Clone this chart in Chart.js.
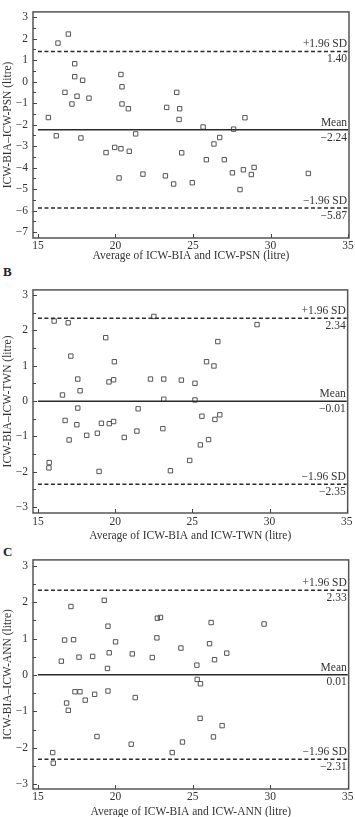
<!DOCTYPE html>
<html><head><meta charset="utf-8">
<script src="https://cdn.jsdelivr.net/npm/chart.js@4/dist/chart.umd.min.js"></script>
<style>
html,body{margin:0;padding:0;background:#fff;overflow:hidden;width:355px;height:817px;}
canvas{position:absolute;left:0;}
.lbl{position:absolute;left:3px;font:bold 13px "Liberation Serif","Times New Roman",serif;color:#222;line-height:14px;}
</style></head><body>
<div class="lbl" style="top:265px">B</div>
<div class="lbl" style="top:545px">C</div>
<canvas id="cA" width="355" height="264" style="top:0px;width:355px;height:264px"></canvas>
<canvas id="cB" width="355" height="267" style="top:278px;width:355px;height:267px"></canvas>
<canvas id="cC" width="355" height="272" style="top:548px;width:355px;height:272px"></canvas>
<script>
// ---- data ----
const xTicks = [15, 20, 25, 30, 35];
const yTicksA = [3, 2, 1, 0, -1, -2, -3, -4, -5, -6, -7];
const yTicksBC = [3, 2, 1, 0, -1, -2, -3];

const psnX = [15.67,16.18,16.29,16.96,16.74,17.19,17.37,17.37,17.52,17.77,17.88,18.29,20.35,20.42,20.42,20.83,21.30,23.30,23.95,24.14,24.10,25.65,26.72,27.62,28.35,19.39,19.95,20.35,20.89,20.23,21.77,23.22,23.75,24.27,24.95,25.86,26.35,27.02,27.54,28.25,28.03,28.76,28.94,32.44];
const psnY = [-1.67,-2.52,1.79,2.21,-0.50,-1.04,0.83,0.23,-0.68,-2.62,0.06,-0.77,0.33,-0.24,-1.04,-1.26,-2.43,-1.20,-0.50,-1.26,-1.76,-2.11,-2.60,-2.21,-1.68,-3.30,-3.06,-3.12,-3.24,-4.48,-4.30,-4.38,-4.76,-3.31,-4.70,-3.63,-2.90,-3.63,-4.24,-4.10,-5.02,-4.32,-3.99,-4.27];

const twnX = [16.05,16.96,16.59,17.13,17.58,17.73,17.58,19.39,19.60,19.90,19.95,21.49,22.29,22.51,23.15,23.15,24.29,25.17,25.17,25.92,26.40,26.65,29.19,16.76,17.02,17.52,18.16,18.85,19.11,19.62,19.90,18.96,20.59,21.41,23.09,23.58,15.73,15.71,24.83,25.52,26.05,25.62,26.46,26.78];
const twnY = [2.26,2.21,0.17,1.27,0.62,0.29,-0.20,1.79,0.54,0.60,1.11,-0.22,0.62,2.39,0.62,0.05,0.59,0.50,0.03,1.11,0.99,1.68,2.16,-0.55,-1.10,-0.67,-0.97,-0.91,-0.63,-0.64,-0.58,-1.99,-1.03,-0.85,-0.78,-1.97,-1.74,-1.89,-1.68,-1.24,-1.09,-0.43,-0.52,-0.39];

const annX = [16.51,16.72,17.13,17.30,17.65,18.53,19.28,19.52,19.60,19.49,20.01,21.09,22.38,22.68,22.71,22.91,24.23,25.26,25.28,26.08,26.18,26.40,27.19,29.60,25.49,16.85,16.96,17.39,17.71,18.05,18.66,19.52,21.28,18.81,21.02,23.67,24.33,25.47,26.33,26.89,15.95,15.99];
const annY = [0.38,0.96,1.88,0.97,0.49,0.51,2.05,1.34,0.61,0.18,0.91,0.58,0.48,1.02,1.56,1.58,0.74,0.27,-0.12,0.86,1.44,0.42,0.60,1.40,-0.24,-0.77,-0.97,-0.46,-0.46,-0.69,-0.53,-0.44,-0.62,-1.69,-1.90,-2.13,-1.84,-1.19,-1.70,-1.39,-2.13,-2.42];

const meanDiff = [-2.24, -0.01, 0.01];
const upperLoA = [1.40, 2.34, 2.33];
const lowerLoA = [-5.87, -2.35, -2.31];
const yTitles = ['ICW-BIA\u2013ICW-PSN (litre)', 'ICW-BIA\u2013ICW-TWN (litre)', 'ICW-BIA\u2013ICW-ANN (litre)'];
const xTitles = ['Average of ICW-BIA and ICW-PSN (litre)', 'Average of ICW-BIA and ICW-TWN (litre)', 'Average of ICW-BIA and ICW-ANN (litre)'];

// ---- drawing ----
const FONT = '"Liberation Serif", "Times New Roman", serif';
const FS = 11.5;
const INK = '#333';
const minus = v => (v < 0 ? '\u2212' + Math.abs(v) : String(v));
const minus2 = v => (v < 0 ? '\u2212' + Math.abs(v).toFixed(2) : v.toFixed(2));

const decor = {
  id: 'decor',
  afterDatasetsDraw(chart, args, opts) {
    const {ctx, chartArea: a, scales: {x, y}} = chart;
    ctx.save();
    ctx.strokeStyle = '#555';
    ctx.lineWidth = 1.5;
    ctx.strokeRect(a.left, a.top, a.right - a.left, a.bottom - a.top);
    ctx.lineWidth = 1;
    ctx.strokeStyle = '#444';
    ctx.beginPath();
    for (let v = Math.ceil(y.min * 2) / 2; v <= y.max; v += 0.5) {
      const py = Math.round(y.getPixelForValue(v)) + 0.5;
      const len = Number.isInteger(v) ? 4 : 3;
      ctx.moveTo(a.left, py); ctx.lineTo(a.left + len, py);
    }
    x.ticks.forEach(t => {
      const px = Math.round(x.getPixelForValue(t.value)) + 0.5;
      ctx.moveTo(px, a.bottom); ctx.lineTo(px, a.bottom - 4);
    });
    ctx.stroke();
    ctx.fillStyle = INK;
    ctx.font = FS + 'px ' + FONT;
    ctx.textAlign = 'right';
    const xr = x.getPixelForValue(xTicks[xTicks.length - 1]) - 1;
    opts.marks.forEach(m => {
      const py = y.getPixelForValue(m.v);
      ctx.textBaseline = 'alphabetic';
      ctx.fillText(m.above, xr, py - 4);
      ctx.textBaseline = 'top';
      ctx.fillText(m.below, xr, py + 2);
    });
    ctx.restore();
  }
};

function makePanel(id, i, xs, ys, yTicks, yMin, yMax, cfg) {
  const pts = xs.map((v, k) => ({x: v, y: ys[k]}));
  const x0 = xTicks[0], x1 = xTicks[xTicks.length - 1];
  const hline = (v, dash, w) => ({
    data: [{x: x0, y: v}, {x: x1, y: v}], showLine: true, borderColor: '#2a2a2a',
    borderWidth: w, borderDash: dash, pointRadius: 0, fill: false
  });
  new Chart(document.getElementById(id), {
    type: 'scatter',
    data: {datasets: [
      hline(upperLoA[i], [4, 2.5], 1.5),
      hline(meanDiff[i], [], 1.5),
      hline(lowerLoA[i], [4, 2.5], 1.5),
      {data: pts, pointStyle: 'rect', pointRadius: 3.1, borderColor: '#555', borderWidth: 1, backgroundColor: 'rgba(255,255,255,0)'}
    ]},
    options: {
      responsive: false, animation: false, events: [],
      layout: {padding: {top: cfg.pt, right: 6, left: 0, bottom: 0}},
      plugins: {legend: {display: false}, tooltip: {enabled: false},
        decor: {marks: [
          {v: upperLoA[i], above: '+1.96 SD', below: minus2(upperLoA[i])},
          {v: meanDiff[i], above: 'Mean', below: minus2(meanDiff[i])},
          {v: lowerLoA[i], above: '\u22121.96 SD', below: minus2(lowerLoA[i])}
        ]}},
      scales: {
        x: {type: 'linear', min: 14.68, max: 35.06,
          afterBuildTicks: s => { s.ticks = xTicks.map(v => ({value: v})); },
          afterFit: s => { s.height = cfg.xh; },
          grid: {display: false, drawTicks: false}, border: {display: false},
          ticks: {padding: cfg.xp, color: INK, font: {family: FONT, size: FS}, maxRotation: 0, autoSkip: false},
          title: {display: true, text: xTitles[i], color: INK, font: {family: FONT, size: FS}, padding: {top: 0, bottom: cfg.tb}}
        },
        y: {type: 'linear', min: yMin, max: yMax,
          afterBuildTicks: s => { s.ticks = yTicks.map(v => ({value: v})); },
          afterFit: s => { s.width = 33; },
          grid: {display: false, drawTicks: false}, border: {display: false},
          ticks: {padding: 5, color: INK, font: {family: FONT, size: FS}, callback: v => minus(v)},
          title: {display: true, text: yTitles[i], color: INK, font: {family: FONT, size: FS}, padding: {top: 1, bottom: 0}}
        }
      }
    },
    plugins: [decor]
  });
}

makePanel('cA', 0, psnX, psnY, yTicksA, -7.27, 3.24, {pt: 7, xh: 26, xp: 1, tb: 1});
makePanel('cB', 1, twnX, twnY, yTicksBC, -3.165, 3.14, {pt: 6, xh: 32, xp: 2.5, tb: 2});
makePanel('cC', 2, annX, annY, yTicksBC, -3.13, 3.16, {pt: 11, xh: 31, xp: 1.5, tb: 1.4});
</script>
</body></html>
